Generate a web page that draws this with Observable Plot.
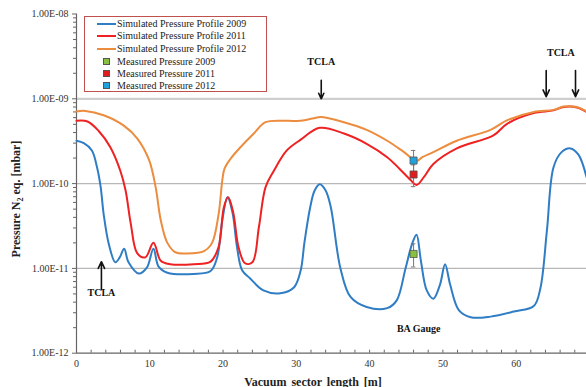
<!DOCTYPE html>
<html>
<head>
<meta charset="utf-8">
<script src="https://cdn.jsdelivr.net/npm/d3@7"></script>
<script src="https://cdn.jsdelivr.net/npm/@observablehq/plot@0.6"></script>
<style>
  html, body { margin: 0; padding: 0; background: #fff; }
  #wrap { position: relative; width: 586px; height: 387px; overflow: hidden; font-family: "Liberation Serif", "Times New Roman", serif; }
  #wrap svg, #wrap svg text { font-family: "Liberation Serif", "Times New Roman", serif !important; }
  #legend { position: absolute; left: 84px; top: 16px; width: 183px; height: 76px; border: 1.6px solid #c0504d; background: #fff; box-sizing: border-box; font-size: 10px; color: #222; }
  .li { position: absolute; left: 0; height: 12px; line-height: 12px; white-space: nowrap; }
  .sw { position: absolute; left: 12px; top: 5px; width: 19px; height: 2px; }
  .sq { position: absolute; left: 18px; top: 2px; width: 7px; height: 7px; border: 1px solid #555; box-sizing: border-box; }
  .lt { position: absolute; left: 32px; top: 0; }
  #ytitle { position: absolute; left: 17px; top: 199px; transform: translate(-50%, -50%) rotate(-90deg); font-weight: bold; font-size: 12px; white-space: nowrap; color: #222; }
  #xtitle { position: absolute; left: 313px; top: 382px; transform: translate(-50%, -50%); font-weight: bold; font-size: 12px; white-space: nowrap; color: #222; word-spacing: 2px; }
</style>
</head>
<body>
<div id="wrap"></div>
<script>
// ---- data ----
const x2009 = [0, 1.0, 2.1, 2.8, 3.3, 3.7, 4.4, 5.3, 5.9, 6.5, 7.1, 8.5, 9.6, 10.5, 11.2, 12.4, 16, 18.3, 19.2, 19.9, 20.6, 21.3, 21.9, 22.6, 23.7, 25.5, 27.8, 29.7, 30.6, 31.1, 31.9, 32.5, 33.2, 34.0, 34.7, 36.0, 37.4, 39.6, 42.4, 43.7, 44.9, 45.8, 46.4, 47.0, 47.8, 48.7, 49.6, 50.3, 51.0, 52.2, 53.8, 56.5, 59.7, 62.4, 63.3, 64.2, 65.1, 66.2, 67.4, 68.5, 69.6];
const y2009 = [3.2e-10, 3.0e-10, 2.46e-10, 1.56e-10, 9.1e-11, 4.4e-11, 1.95e-11, 1.18e-11, 1.35e-11, 1.7e-11, 1.18e-11, 8.7e-12, 1.02e-11, 1.7e-11, 1.05e-11, 8.9e-12, 8.6e-12, 9.3e-12, 1.35e-11, 3.7e-11, 6.9e-11, 4.5e-11, 1.8e-11, 9.5e-12, 7.6e-12, 5.5e-12, 5.1e-12, 6.0e-12, 9.5e-12, 2.0e-11, 5.3e-11, 8.3e-11, 9.8e-11, 8.3e-11, 5.3e-11, 1.02e-11, 4.6e-12, 3.5e-12, 3.4e-12, 4.2e-12, 1.0e-11, 1.95e-11, 2.5e-11, 1.23e-11, 5.5e-12, 4.4e-12, 6.4e-12, 1.12e-11, 6.4e-12, 3.2e-12, 2.65e-12, 2.7e-12, 3.1e-12, 3.6e-12, 5.8e-12, 2.8e-11, 1.56e-10, 2.35e-10, 2.6e-10, 2.2e-10, 1.2e-10];

const x2011 = [0, 1.5, 3.0, 4.6, 6.0, 6.7, 7.4, 8.3, 9.4, 10.5, 11.5, 12.8, 16, 18.3, 19.4, 20.1, 20.7, 21.4, 22.1, 23.0, 24.0, 24.9, 25.8, 26.9, 28.7, 30.6, 33.2, 36.5, 39.6, 42.4, 44.1, 45.6, 46.4, 47.4, 48.7, 51.9, 56.9, 58.8, 62.4, 65.1, 66.5, 68.3, 69.6];
const y2011 = [5.5e-10, 5.4e-10, 4.2e-10, 2.7e-10, 1.4e-10, 8.3e-11, 3.4e-11, 1.5e-11, 1.35e-11, 2.0e-11, 1.23e-11, 1.12e-11, 1.12e-11, 1.2e-11, 1.8e-11, 5.2e-11, 6.9e-11, 4.5e-11, 1.8e-11, 1.15e-11, 1.18e-11, 3.1e-11, 9.1e-11, 1.4e-10, 2.46e-10, 3.3e-10, 4.55e-10, 3.9e-10, 2.95e-10, 2.05e-10, 1.49e-10, 1.1e-10, 9.6e-11, 1.19e-10, 1.7e-10, 2.6e-10, 3.7e-10, 5.1e-10, 6.8e-10, 7.3e-10, 8.0e-10, 7.9e-10, 7.0e-10];

const x2012 = [0, 1.2, 3.7, 6.5, 8.3, 9.9, 10.8, 11.5, 12.4, 13.5, 15.1, 17.4, 18.5, 19.4, 19.9, 20.2, 21.0, 22.4, 24.2, 25.8, 28.7, 30.6, 32.4, 33.3, 36.5, 39.6, 42.4, 44.7, 46.4, 47.2, 48.7, 51.9, 56.5, 58.8, 62.4, 65.1, 66.5, 68.3, 69.6];
const y2012 = [7.1e-10, 7.2e-10, 6.4e-10, 4.8e-10, 3.4e-10, 1.9e-10, 9.1e-11, 3.7e-11, 2.0e-11, 1.55e-11, 1.5e-11, 1.6e-11, 2.0e-11, 4.4e-11, 1.1e-10, 1.5e-10, 1.95e-10, 2.7e-10, 3.9e-10, 5.3e-10, 5.5e-10, 5.5e-10, 5.9e-10, 6.1e-10, 5.3e-10, 4.3e-10, 3.2e-10, 2.35e-10, 1.85e-10, 2.05e-10, 2.35e-10, 3.2e-10, 4.3e-10, 5.6e-10, 7.0e-10, 7.4e-10, 8.1e-10, 8.0e-10, 7.1e-10];

const measuredNames = ["Measured Pressure 2009", "Measured Pressure 2011", "Measured Pressure 2012"];
const measuredX = [46.0, 46.0, 46.0];
const measuredY = [1.48e-11, 1.28e-10, 1.87e-10];
const measuredLow = [1.04e-11, 0.92e-10, 1.32e-10];
const measuredHigh = [1.95e-11, 1.66e-10, 2.46e-10];

const simNames = ["Simulated Pressure Profile 2009", "Simulated Pressure Profile 2011", "Simulated Pressure Profile 2012"];

const yTicks = [1e-12, 1e-11, 1e-10, 1e-9, 1e-8];
const yTickLabels = ["1.00E-12", "1.00E-11", "1.00E-10", "1.00E-09", "1.00E-08"];
const xTicks = [0, 10, 20, 30, 40, 50, 60];
const xMinor = d3.range(0, 70, 2);
const gridY = [1e-11, 1e-10, 1e-9];

const annoText = ["TCLA", "TCLA", "TCLA", "BA Gauge"];
const annoX = [3.4, 33.4, 66.1, 46.7];
const annoY = [5.1e-12, 2.7e-9, 3.5e-9, 1.95e-12];
const arrowX = [3.4, 33.4, 64.1, 68.1];
const arrowFrom = [5.6e-12, 1.65e-9, 2.15e-9, 2.15e-9];
const arrowTo = [1.2e-11, 1.0e-9, 1.06e-9, 1.06e-9];

// ---- styles ----
const lineColors = ["#2f7dc4", "#ee2222", "#ec8c3e"];
const markColors = ["#86c140", "#e01c1c", "#1fa3dc"];
const serif = '"Liberation Serif", "Times New Roman", serif';

const series = [];
[[x2009, y2009], [x2011, y2011], [x2012, y2012]].forEach(([xs, ys], k) => {
  xs.forEach((x, i) => series.push({s: simNames[k], x, y: ys[i], k}));
});
const measured = measuredNames.map((n, i) => ({n, x: measuredX[i], y: measuredY[i], lo: measuredLow[i], hi: measuredHigh[i], c: markColors[i]}));

const minorY = [];
for (let e = -12; e < -8; e++) for (let m = 2; m <= 9; m++) minorY.push(m * Math.pow(10, e));

const annos = annoText.map((t, i) => ({t, x: annoX[i], y: annoY[i]}));
const arrows = arrowX.map((x, i) => ({x, y1: arrowFrom[i], y2: arrowTo[i]}));

const chart = Plot.plot({
  width: 586,
  height: 387,
  marginLeft: 76,
  marginRight: 0,
  marginTop: 13.5,
  marginBottom: 34.3,
  style: {fontFamily: serif, fontSize: "10px", background: "white", color: "#333"},
  x: {domain: [0, 69.6]},
  y: {type: "log", domain: [1e-12, 1e-8]},
  marks: [
    Plot.ruleY(gridY, {stroke: d => d === 1e-9 ? "#cfcfcf" : "#b8b8b8", strokeWidth: d => d === 1e-9 ? 2.2 : 1.1}),
    Plot.axisY({ticks: minorY, tickFormat: () => "", tickSize: 3, label: null, stroke: "#666"}),
    Plot.axisY({ticks: yTicks, tickFormat: d => yTickLabels[yTicks.indexOf(d)], tickSize: 4, tickPadding: 4, label: null, stroke: "#666", fill: "#333", fontFamily: serif}),
    Plot.axisX({ticks: xMinor, tickFormat: () => "", tickSize: -3, label: null, stroke: "#666"}),
    Plot.axisX({ticks: xTicks, tickSize: 0, tickPadding: 7, label: null, fill: "#333", fontFamily: serif}),
    Plot.ruleX([0], {stroke: "#666", strokeWidth: 1.2}),
    Plot.ruleY([1e-12], {stroke: "#666", strokeWidth: 1.2}),
    Plot.line(series, {x: "x", y: "y", z: "s", stroke: d => lineColors[d.k], strokeWidth: 2, curve: "catmull-rom"}),
    Plot.ruleX(measured, {x: "x", y1: "lo", y2: "hi", stroke: "#777", strokeWidth: 1}),
    Plot.ruleY(measured, {y: "lo", x1: d => d.x - 0.3, x2: d => d.x + 0.3, stroke: "#777", strokeWidth: 1}),
    Plot.ruleY(measured, {y: "hi", x1: d => d.x - 0.3, x2: d => d.x + 0.3, stroke: "#777", strokeWidth: 1}),
    Plot.dot(measured, {x: "x", y: "y", symbol: "square", r: 4, fill: "c", stroke: "#555", strokeWidth: 0.8}),
    Plot.arrow(arrows, {x1: "x", x2: "x", y1: "y1", y2: "y2", stroke: "#111", strokeWidth: 1.6, headLength: 7, headAngle: 50}),
    Plot.text(annos, {x: "x", y: "y", text: "t", fontWeight: "bold", fontSize: 10, fill: "#111", fontFamily: serif})
  ]
});

const wrap = document.getElementById("wrap");
wrap.appendChild(chart);

const legend = document.createElement("div");
legend.id = "legend";
const rowsTop = [1, 13, 25.5, 38.5, 50.5, 62.5];
simNames.forEach((n, i) => {
  const r = document.createElement("div");
  r.className = "li"; r.style.top = rowsTop[i] + "px"; r.style.width = "180px";
  r.innerHTML = `<span class="sw" style="background:${lineColors[i]}"></span><span class="lt">${n}</span>`;
  legend.appendChild(r);
});
measuredNames.forEach((n, i) => {
  const r = document.createElement("div");
  r.className = "li"; r.style.top = rowsTop[i + 3] + "px"; r.style.width = "180px";
  r.innerHTML = `<span class="sq" style="background:${markColors[i]}"></span><span class="lt">${n}</span>`;
  legend.appendChild(r);
});
wrap.appendChild(legend);

const yt = document.createElement("div");
yt.id = "ytitle";
yt.innerHTML = "Pressure N<sub style='font-size:8px'>2</sub> eq. [mbar]";
wrap.appendChild(yt);
const xt = document.createElement("div");
xt.id = "xtitle";
xt.textContent = "Vacuum sector length [m]";
wrap.appendChild(xt);
</script>
</body>
</html>
